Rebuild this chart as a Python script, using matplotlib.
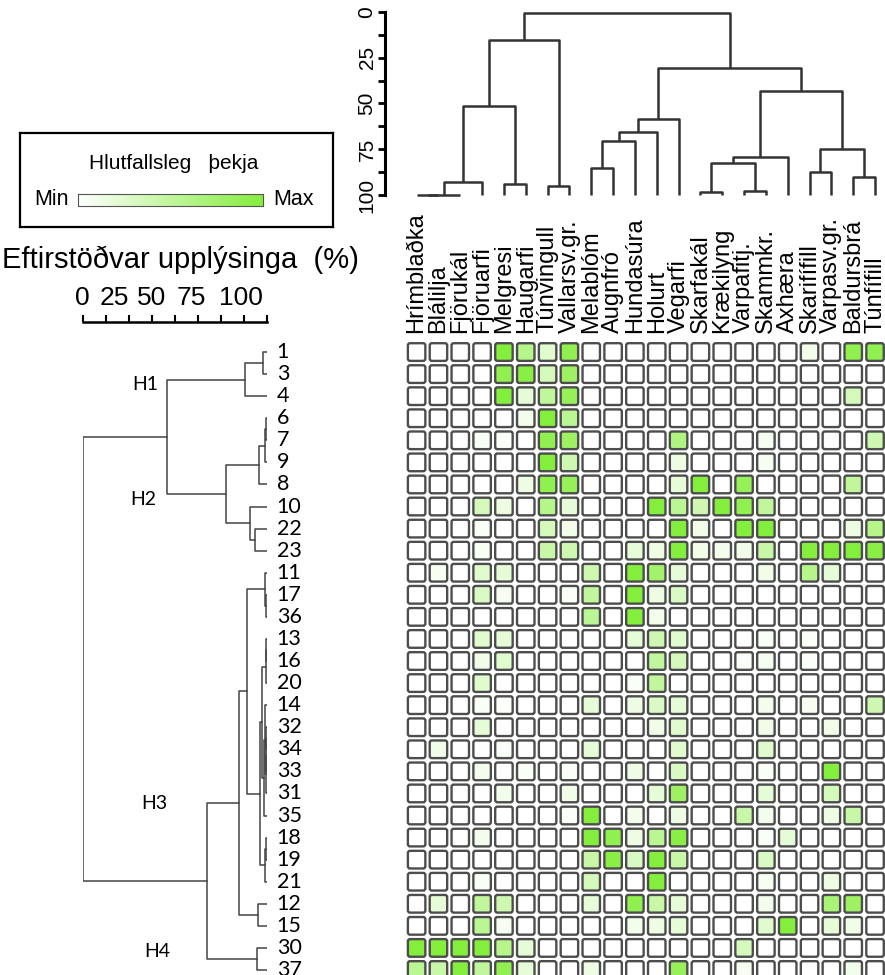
import numpy as np
import matplotlib
matplotlib.use("Agg")
import matplotlib.pyplot as plt
from matplotlib.colors import LinearSegmentedColormap
from matplotlib.patches import FancyBboxPatch

plt.rcParams['font.family'] = ['Liberation Sans', 'DejaVu Sans']

# species (columns) and sites (rows), in dendrogram order
species = ["Hrímblaðka", "Blálilja", "Fjörukál", "Fjöruarfi", "Melgresi", "Haugarfi",
           "Túnvingull", "Vallarsv.gr.", "Melablóm", "Augnfró", "Hundasúra", "Holurt",
           "Vegarfi", "Skarfakál", "Krækilyng", "Varpafitj.", "Skammkr.", "Axhæra",
           "Skarifífill", "Varpasv.gr.", "Baldursbrá", "Túnfífill"]
sites = ["1", "3", "4", "6", "7", "9", "8", "10", "22", "23", "11", "17", "36", "13",
         "16", "20", "14", "32", "34", "33", "31", "35", "18", "19", "21", "12", "15",
         "30", "37"]

# relative cover (0 = min, 1 = max), one list per site
cover = [
    [0, 0, 0, 0, 1.0, .6, .25, .9, 0, 0, 0, 0, 0, 0, 0, 0, 0, 0, .1, 0, .9, .9],
    [0, 0, 0, 0, .9, .95, .35, .8, 0, 0, 0, 0, 0, 0, 0, 0, 0, 0, 0, 0, 0, 0],
    [0, 0, 0, 0, 1.0, .2, .5, .85, 0, 0, 0, 0, 0, 0, 0, 0, 0, 0, 0, 0, .35, 0],
    [0, 0, 0, 0, 0, .1, 1.0, .55, 0, 0, 0, 0, 0, 0, 0, 0, 0, 0, 0, 0, 0, 0],
    [0, 0, 0, .05, .05, 0, .9, .8, 0, 0, 0, 0, .65, 0, 0, 0, .08, 0, 0, 0, 0, .4],
    [0, 0, 0, 0, 0, 0, 1.0, .4, 0, 0, 0, 0, .15, 0, 0, 0, .08, 0, 0, 0, 0, 0],
    [0, 0, 0, 0, 0, .15, .9, .85, 0, 0, 0, 0, .2, 1.0, 0, .85, 0, 0, 0, 0, .5, 0],
    [0, 0, 0, .35, .15, 0, .6, .2, 0, 0, 0, 1.0, .55, .4, 1.0, .9, .5, 0, 0, 0, 0, 0],
    [0, 0, 0, .05, 0, 0, .35, .12, 0, 0, 0, 0, 1.0, .12, 0, 1.0, 1.0, 0, 0, 0, .15, .6],
    [0, 0, 0, .07, 0, 0, .45, .4, 0, 0, .2, .15, 1.0, .12, .1, .12, .45, 0, 1.0, 1.0, 1.0, .95],
    [0, .08, 0, .25, .2, 0, 0, 0, .4, 0, 1.0, .75, .2, 0, 0, 0, .12, 0, .6, .2, 0, 0],
    [0, 0, 0, .3, .08, 0, 0, .05, .5, 0, 1.0, .15, .3, 0, 0, 0, 0, 0, 0, 0, 0, 0],
    [0, 0, 0, 0, 0, 0, 0, 0, .55, 0, 1.0, .1, 0, 0, 0, 0, 0, 0, 0, 0, 0, 0],
    [0, 0, 0, .25, .2, 0, 0, 0, 0, 0, .2, .4, .25, 0, 0, 0, .05, 0, .05, 0, 0, 0],
    [0, 0, 0, .12, .25, 0, 0, 0, 0, 0, 0, .5, .35, 0, 0, .05, .08, 0, .05, 0, 0, 0],
    [0, 0, 0, .25, 0, 0, 0, 0, 0, 0, .05, .5, 0, 0, 0, 0, 0, 0, 0, 0, 0, 0],
    [0, 0, 0, .05, .03, 0, 0, 0, .2, 0, .15, .3, .2, 0, 0, 0, .1, 0, .08, 0, 0, .4],
    [0, 0, 0, .2, 0, 0, 0, 0, 0, 0, 0, .12, .25, 0, 0, 0, .12, 0, 0, .12, 0, 0],
    [0, .12, 0, 0, .05, 0, 0, 0, .2, 0, 0, 0, .25, 0, 0, 0, .25, 0, 0, 0, 0, 0],
    [0, 0, 0, .1, 0, .05, 0, .05, 0, 0, .15, 0, .3, 0, 0, 0, .05, 0, 0, 1.0, 0, 0],
    [0, 0, 0, 0, .1, 0, 0, .12, 0, 0, 0, .2, .8, 0, 0, 0, .2, 0, 0, .35, 0, 0],
    [0, 0, 0, 0, 0, 0, 0, .05, 1.0, 0, .1, 0, .15, 0, 0, .45, .1, 0, 0, .15, .45, 0],
    [0, 0, 0, .1, 0, 0, 0, 0, 1.0, .9, .15, .55, .95, 0, 0, 0, .05, .2, 0, 0, 0, 0],
    [0, 0, 0, 0, 0, 0, 0, 0, .45, .95, .3, 1.0, .45, 0, 0, 0, .3, 0, 0, 0, 0, 0],
    [0, 0, 0, .05, 0, 0, 0, 0, .35, 0, 0, 1.0, 0, 0, 0, 0, .08, 0, 0, .15, 0, 0],
    [0, .2, 0, .5, .4, 0, 0, 0, .2, 0, .9, .45, .2, 0, 0, 0, .1, 0, 0, .7, .8, 0],
    [0, 0, 0, .55, .08, 0, 0, 0, 0, 0, .1, .15, .2, 0, 0, 0, .25, 1.0, 0, .2, .12, 0],
    [1.0, 1.0, 1.0, 1.0, .6, .2, 0, 0, 0, 0, 0, 0, 0, 0, 0, .35, 0, 0, 0, 0, 0, 0],
    [.55, .45, 1.0, .5, .9, .2, 0, 0, .15, 0, 0, 0, .85, 0, 0, .08, 0, 0, 0, 0, .1, 0],
]

# dendrograms: (child a, child b, level) ; ids < n are leaves, n + k is merge k
# level = remaining information (%), leaves sit at 100
species_tree = [
    (0, 1, 100), (22, 2, 100), (23, 3, 92.7), (4, 5, 94), (24, 25, 51.5),
    (6, 7, 95), (26, 27, 15.5), (8, 9, 85.5), (29, 10, 70.5), (30, 11, 65.8),
    (31, 12, 58.5), (13, 14, 98.5), (15, 16, 97.6), (33, 34, 82.4), (35, 17, 79),
    (18, 19, 87.3), (20, 21, 90.4), (37, 38, 75), (36, 39, 43), (32, 40, 30.5),
    (28, 41, 0.5),
]
site_tree = [
    (0, 1, 97.8), (29, 2, 88), (3, 4, 99.6), (31, 5, 99.0), (32, 6, 95.7),
    (8, 9, 93.5), (7, 34, 90.8), (33, 35, 77.7), (30, 36, 45.5), (11, 12, 99.5),
    (10, 38, 98.8), (13, 14, 99.6), (40, 15, 99.2), (17, 18, 99.7), (42, 19, 99.5),
    (43, 20, 99.2), (16, 44, 99.0), (45, 21, 98.6), (41, 46, 97.5), (22, 23, 99.6),
    (48, 24, 99.0), (47, 49, 96.2), (39, 50, 89), (25, 26, 95.3), (51, 52, 84.8),
    (27, 28, 94.3), (53, 54, 67.4), (37, 55, 0),
]
group_names = ["H1", "H2", "H3", "H4"]
scale_labels = ["0", "25", "50", "75", "100"]

green = LinearSegmentedColormap.from_list("w2g", ["#ffffff", "#84ee3c"])


def draw_tree(ax, merges, n, horizontal, **kw):
    pos = {i: i + 0.5 for i in range(n)}
    lev = {i: 100.0 for i in range(n)}
    for k, (a, b, h) in enumerate(merges):
        xs = [pos[a], pos[a], pos[b], pos[b]]
        ys = [lev[a], h, h, lev[b]]
        if horizontal:
            ax.plot(ys, xs, **kw)
        else:
            ax.plot(xs, ys, **kw)
        pos[n + k] = (pos[a] + pos[b]) / 2
        lev[n + k] = h


W, H = 885, 975
fig = plt.figure(figsize=(W / 100, H / 100), dpi=100)


def px_axes(x0, y0, x1, y1):
    return fig.add_axes([x0 / W, 1 - y1 / H, (x1 - x0) / W, (y1 - y0) / H])


nr, nc = len(sites), len(species)
hx0, hy0 = 405.7, 341
cw, ch = 21.83, 22.07

# heatmap
ax = px_axes(hx0, hy0, hx0 + nc * cw, hy0 + nr * ch)
for i in range(nr):
    for j in range(nc):
        ax.add_patch(FancyBboxPatch((j + 0.1, i + 0.1), 0.8, 0.8,
                                    boxstyle="round,pad=0,rounding_size=0.1",
                                    fc=green(cover[i][j]), ec="#4d4d4d", lw=1.7))
ax.set_xlim(0, nc)
ax.set_ylim(nr, 0)
ax.xaxis.tick_top()
ax.set_xticks(np.arange(nc) + 0.5)
ax.set_xticklabels(species, rotation=90, fontsize=17)
ax.tick_params(axis="x", length=0, pad=6)
ax.set_yticks([])
for s in ax.spines.values():
    s.set_visible(False)

# species dendrogram on top
axt = px_axes(hx0, 12, hx0 + nc * cw, 197)
draw_tree(axt, species_tree, nc, False, color="#333333", lw=1.8, solid_capstyle="butt")
axt.set_xlim(0, nc)
axt.set_ylim(101.1, 0)
for k in ["top", "right", "bottom"]:
    axt.spines[k].set_visible(False)
axt.spines["left"].set_position(("outward", 15))
axt.spines["left"].set_linewidth(2.2)
axt.spines["left"].set_bounds(0, 100)
axt.set_xticks([])
axt.set_yticks(np.arange(0, 101, 12.5))
axt.set_yticklabels(["0", "", "25", "", "50", "", "75", "", "100"], fontsize=15)
axt.tick_params(axis="y", length=5, width=2, labelrotation=90, pad=1)
for t in axt.get_yticklabels():
    t.set_va("center")

# site dendrogram on the left
axl = px_axes(83, hy0, 267, hy0 + nr * ch)
draw_tree(axl, site_tree, nr, True, color="#444444", lw=1.1)
axl.set_xlim(0, 100)
axl.set_ylim(nr, 0)
for s in axl.spines.values():
    s.set_visible(False)
axl.set_xticks([])
axl.yaxis.tick_right()
axl.set_yticks(np.arange(nr) + 0.5)
axl.set_yticklabels(sites, fontsize=15.5, family="Lato")
axl.tick_params(axis="y", length=0, pad=7)
for t in axl.get_yticklabels():
    t.set_va("center")
for name, (gx, gy) in zip(group_names, [(33.7, 1.97), (33, 7.2), (39, 20.96), (40.5, 27.66)]):
    axl.text(gx, gy, name, fontsize=14, family="Lato", ha="center", va="center")

# scale bar for the site dendrogram
axs = px_axes(83, 300, 267, 322)
axs.set_xlim(0, 100)
for k in ["top", "right", "left"]:
    axs.spines[k].set_visible(False)
axs.spines["bottom"].set_linewidth(1.8)
axs.set_yticks([])
axs.set_xticks(np.arange(0, 101, 12.5))
axs.set_xticklabels([])
axs.tick_params(axis="x", direction="in", length=5, width=1.5)
axs.patch.set_alpha(0)
for lab, lx in zip(scale_labels, [82, 114, 152, 191, 241]):
    fig.text(lx / W, 1 - 298 / H, lab, fontsize=19, va="center", ha="center")
fig.text(2 / W, 1 - 260 / H, "Eftirstöðvar upplýsinga  (%)", fontsize=21, va="center", ha="left")

# legend box
axg = px_axes(20, 133, 333, 227)
axg.set_xticks([])
axg.set_yticks([])
for s in axg.spines.values():
    s.set_linewidth(1.6)
axg.text(0.49, 0.68, "Hlutfallsleg   þekja", fontsize=15, ha="center", va="center",
         transform=axg.transAxes)
axg.text(0.155, 0.29, "Min", fontsize=15.5, ha="right", va="center", transform=axg.transAxes)
axg.text(0.81, 0.29, "Max", fontsize=15.5, ha="left", va="center", transform=axg.transAxes)
axc = px_axes(78, 194, 263, 206)
axc.imshow(np.linspace(0, 1, 256)[None, :], cmap=green, aspect="auto")
axc.set_xticks([])
axc.set_yticks([])
for s in axc.spines.values():
    s.set_linewidth(0.8)
    s.set_color("#555555")

fig.savefig("out.png", dpi=100)
